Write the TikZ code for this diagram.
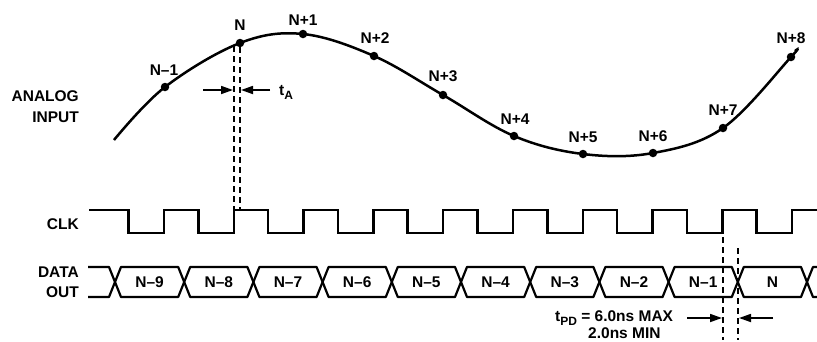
\documentclass[tikz,border=0pt]{standalone}
\usepackage{fontspec}
\setmainfont{Liberation Sans}
\usetikzlibrary{arrows.meta}
\begin{document}
\begin{tikzpicture}[x=1pt,y=-1pt,
  lab/.style={font=\fontsize{15.5}{17}\selectfont\bfseries, inner sep=0pt, text height=11.1pt, text depth=0pt},
  sig/.style={line width=2.5pt, line join=miter},
  dat/.style={line width=2.2pt, line join=round},
  dashln/.style={line width=1.3pt, dash pattern=on 6pt off 4pt},
  dimarr/.style={line width=1.7pt, -{Triangle[length=12pt,width=8pt]}},
  dot/.style={circle, fill, inner sep=0pt, minimum size=8.5pt}]
\useasboundingbox (0,0) rectangle (817,341);

% analog input curve
\draw[sig] plot[smooth, tension=0.6] coordinates {(114,140) (165,87) (240,43) (303,34) (374,56) (443,95) (514,136) (583,154) (653,153) (723,128) (791,57) (795,51)};
\foreach \n/\x/\y/\lx/\ly/\t in {m1/165/87/164/70/N–1, n0/240/43/240/25/N, p1/303/34/303/20/N+1, p2/374/56/375/38/N+2, p3/443/95/443/76/N+3, p4/514/136/515/119/N+4, p5/583/154/583/137/N+5, p6/653/153/653/136/N+6, p7/723/128/723/110/N+7, p8/791/57/791/38/N+8}{
  \node[dot] (s\n) at (\x,\y) {};
  \node[lab] (l\n) at (\lx,\ly) {\t};
}

% left labels
\node[lab, anchor=east] (ana) at (79,95.5) {ANALOG};
\node[lab, anchor=east] (inp) at (79,117) {INPUT};
\node[lab, anchor=east] (clk) at (79,224) {CLK};
\node[lab, anchor=east] (dat1) at (79,272) {DATA};
\node[lab, anchor=east] (dat2) at (79,292) {OUT};

% clock
\draw[sig] (89,210) foreach \k in {0,...,9} { -- ({128.5+69.8*\k},210) -- ++(0,23) -- ({164+69.8*\k},233) -- ++(0,-23) } -- (817,210);

% data out
\draw[dat] (88,267) -- (109,267) -- (115,282) -- (109,297) -- (88,297);
\foreach \k/\t in {0/N–9, 1/N–8, 2/N–7, 3/N–6, 4/N–5, 5/N–4, 6/N–3, 7/N–2, 8/N–1, 9/N}{
  \pgfmathsetmacro{\ca}{115+69.2*\k}
  \pgfmathsetmacro{\cb}{115+69.2*(\k+1)}
  \draw[dat] (\ca,282) -- ({\ca+6},267) -- ({\cb-6},267) -- (\cb,282) -- ({\cb-6},297) -- ({\ca+6},297) -- cycle;
  \node[lab] (d\k) at ({(\ca+\cb)/2},282) {\t};
}
\draw[dat] (817,267) -- (813,267) -- (807,282) -- (813,297) -- (817,297);

% t_A
\coordinate (ta1) at (234,46);
\coordinate (ta1b) at (234,210);
\coordinate (ta2b) at (240,210);
\draw[dashln] (ta1) -- (ta1b);
\draw[dashln] (sn0) -- (ta2b);
\coordinate (aa) at (203,90);
\coordinate (aat) at (233,90);
\coordinate (ab) at (270,90);
\coordinate (abt) at (241,90);
\draw[dimarr] (aa) -- (aat);
\draw[dimarr] (ab) -- (abt);
\node[lab, anchor=base west, text height=, text depth=] (tA) at (279,95) {t\raisebox{-4pt}{\fontsize{12}{12}\selectfont A}};

% t_PD
\coordinate (pd1a) at (723,237);
\coordinate (pd1b) at (723,340);
\coordinate (pd2a) at (738,248);
\coordinate (pd2b) at (738,340);
\draw[dashln] (pd1a) -- (pd1b);
\draw[dashln] (pd2a) -- (pd2b);
\coordinate (pa) at (687,318);
\coordinate (pat) at (722,318);
\coordinate (pb) at (773,318);
\coordinate (pbt) at (739,318);
\draw[dimarr] (pa) -- (pat);
\draw[dimarr] (pb) -- (pbt);
\node[lab, anchor=base west, text height=, text depth=] (tpd1) at (555,321) {t\raisebox{-4pt}{\fontsize{12}{12}\selectfont PD} = 6.0ns MAX};
\node[lab, anchor=base west, text height=, text depth=] (tpd2) at (588,338) {2.0ns MIN};
\end{tikzpicture}
\end{document}
